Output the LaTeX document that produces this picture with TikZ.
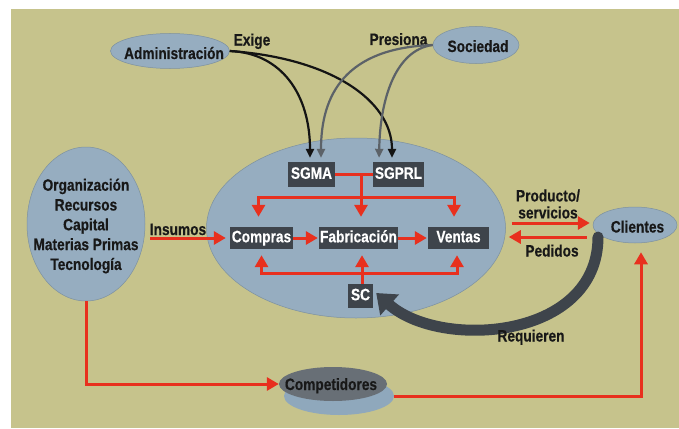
\documentclass[tikz,border=0pt]{standalone}
\usepackage{fontspec}
\newfontfamily\diagfont{Liberation Sans}[FakeStretch=0.83,FakeBold=0.4]
\usetikzlibrary{arrows.meta,shapes.geometric,calc}

\definecolor{khaki}{RGB}{198,195,140}
\definecolor{ellblue}{RGB}{150,173,192}
\definecolor{ellline}{RGB}{125,145,160}
\definecolor{boxgray}{RGB}{62,68,75}
\definecolor{compdark}{RGB}{104,111,118}
\definecolor{complight}{RGB}{143,168,188}
\definecolor{arrred}{RGB}{232,48,30}
\definecolor{ink}{RGB}{24,24,24}
\definecolor{curvegray}{RGB}{92,98,104}

\tikzset{
  blob/.style={ellipse, fill=ellblue, draw=ellline, line width=0.5pt, inner sep=0pt},
  lbl/.style={inner sep=0pt, text=ink, text height=12pt, text depth=3.5pt},
  box/.style={fill=boxgray, text=white, inner sep=0pt, text height=12pt, text depth=3.5pt},
  redline/.style={draw=arrred, line width=3pt},
  redarr/.style={redline, -{Triangle[length=12pt,width=13pt]}},
  blkarr/.style={draw=black!92, line width=2.2pt, -{Triangle[length=9pt,width=8pt]}},
  gryarr/.style={draw=curvegray, line width=2.2pt, -{Triangle[length=9pt,width=8pt]}},
  reqarr/.style={draw=boxgray, line width=11pt, line cap=round, -{Triangle[length=18pt,width=27pt]}}
}

\begin{document}
\begin{tikzpicture}[x=1pt,y=-1pt,
  every node/.style={font=\diagfont\bfseries\fontsize{16.5}{19.8}\selectfont}]
\useasboundingbox (0,0) rectangle (679,428);
\fill[khaki] (11,9) rectangle (679,428);

% outer actors
\node[blob, minimum width=119pt, minimum height=35pt] (adm) at (170,51) {};
\node[lbl] (admtxt) at (174,54.75) {Administración};
\node[blob, minimum width=86pt, minimum height=37pt] (soc) at (476,45) {};
\node[lbl] (soctxt) at (478,47.75) {Sociedad};
\node[lbl] (exige) at (252,41.25) {Exige};
\node[lbl] (presiona) at (398.5,40.75) {Presiona};

\node[blob, minimum width=118pt, minimum height=154pt] (org) at (86,224) {};
\node[align=center, text=ink, inner sep=0pt] (orgtxt) at (86,226)
  {Organización\\Recursos\\Capital\\Materias Primas\\Tecnología};

\node[blob, minimum width=84pt, minimum height=36pt] (cli) at (635,225) {};
\node[lbl] (clitxt) at (637.5,228.25) {Clientes};

\node[ellipse, fill=complight, minimum width=110pt, minimum height=38pt] (complight) at (339,396) {};
\node[ellipse, fill=compdark, minimum width=108pt, minimum height=34pt] (compdark) at (333,384) {};
\node[lbl] (comptxt) at (331,385.75) {Competidores};

% the company
\node[blob, minimum width=299pt, minimum height=180pt] (core) at (356,228) {};
\node[box, minimum width=47pt, minimum height=25pt] (sgma) at (311.5,174.5) {SGMA};
\node[box, minimum width=51pt, minimum height=25pt] (sgprl) at (398.5,174.5) {SGPRL};
\node[box, minimum width=63pt, minimum height=22pt] (compras) at (261.5,238) {Compras};
\node[box, minimum width=79pt, minimum height=22pt] (fab) at (358.5,238) {Fabricación};
\node[box, minimum width=61pt, minimum height=22pt] (ventas) at (458.5,238) {Ventas};
\node[box, minimum width=25pt, minimum height=24pt] (sc) at (360.5,296) {SC};

% management systems feeding the processes
\coordinate (jtop) at (361,174.5);
\coordinate (bartop) at (361,197);
\draw[redline] (sgma.east) -- (sgprl.west);
\draw[redarr, shorten >=10pt] (jtop) -- (jtop |- fab.north);
\draw[redarr, shorten >=10pt] (bartop) -| ([xshift=-3pt]compras.north);
\draw[redarr, shorten >=10pt] (bartop) -| ([xshift=-4.5pt]ventas.north);

% process chain
\draw[redarr, shorten >=1pt] (compras.east) -- (fab.west);
\draw[redarr, shorten >=1pt] (fab.east) -- (ventas.west);

% SC support
\coordinate (scup) at ([xshift=1.5pt]sc.north);
\coordinate (barbot) at (362,273);
\draw[redarr, shorten >=6pt] (scup) -- (scup |- fab.south);
\draw[redarr, shorten >=6pt] (barbot) -| (compras.south);
\draw[redarr, shorten >=6pt] (barbot) -| ([xshift=-1.5pt]ventas.south);

% inputs
\draw[redarr, shorten <=5pt, shorten >=4pt] (org.east |- compras.west) -- (compras.west);
\node[lbl] (insumos) at (178,230.75) {Insumos};

% market
\draw[redarr] ($(core.east)+(6,-5)$) -- ($(cli.west)+(-3,-2)$);
\draw[redarr] ($(cli.west)+(-6,12)$) -- ($(core.east)+(3,9)$);
\node[align=center, text=ink, inner sep=0pt,
  font=\diagfont\bfseries\fontsize{16.5}{17}\selectfont] (prod) at (548,204) {Producto/\\servicios};
\node[lbl] (ped) at (552,252.25) {Pedidos};

\draw[redarr] (org.south) |- (compdark.west);
\draw[redarr, shorten >=9pt] (complight.east) -| ([xshift=6pt]cli.south);

% demands from administration and society
\draw[blkarr, shorten >=4pt] (adm.east) .. controls (282,53) and (310,95) .. ([xshift=-1.5pt]sgma.north);
\draw[blkarr, shorten >=4pt] (adm.east) .. controls (330,58) and (392,100) .. ([xshift=-6.5pt]sgprl.north);
\draw[gryarr, shorten >=4pt] (soc.west) .. controls (345,48) and (321,95) .. ([xshift=9.5pt]sgma.north);
\draw[gryarr, shorten >=4pt] (soc.west) .. controls (395,50) and (380,100) .. ([xshift=-19.5pt]sgprl.north);

% customers require the SC
\draw[reqarr] ($(cli.center)+(-37,12)$) .. controls (598,340) and (440,350) .. ($(sc.east)+(3,-3)$);
\node[lbl] (req) at (531,337.25) {Requieren};
\end{tikzpicture}
\end{document}
